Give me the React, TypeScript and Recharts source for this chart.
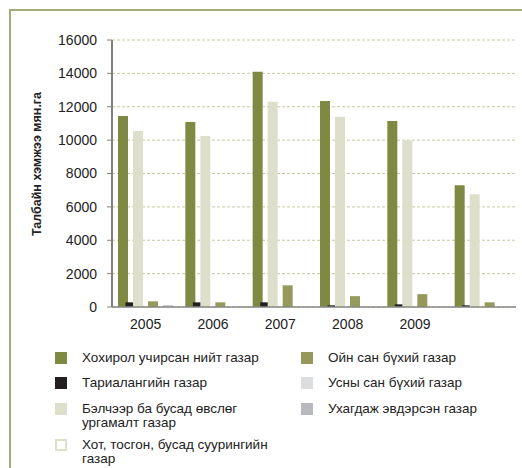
import { BarChart, Bar, XAxis, YAxis, CartesianGrid } from 'recharts'

const years = ['2005', '2006', '2007', '2008', '2009', '']
const damagedTotal = [11450, 11090, 14100, 12350, 11150, 7300]
const cropland = [280, 280, 280, 100, 160, 100]
const pasture = [10550, 10250, 12300, 11400, 10000, 6760]
const settlement = [null, null, null, null, null, null]
const forest = [340, 280, 1300, 650, 770, 280]
const water = [null, null, null, null, null, null]
const degraded = [100, null, null, null, null, null]
const yTicks = [0, 2000, 4000, 6000, 8000, 10000, 12000, 14000, 16000]

const series = [
  { key: 'damagedTotal', name: 'Хохирол учирсан нийт газар', color: '#7f8941' },
  { key: 'cropland', name: 'Тариалангийн газар', color: '#231f20' },
  { key: 'pasture', name: 'Бэлчээр ба бусад өвслөг ургамалт газар', color: '#dedfca' },
  { key: 'settlement', name: 'Хот, тосгон, бусад суурингийн газар', color: '#ffffff' },
  { key: 'forest', name: 'Ойн сан бүхий газар', color: '#959a5a' },
  { key: 'water', name: 'Усны сан бүхий газар', color: '#dcddde' },
  { key: 'degraded', name: 'Ухагдаж эвдэрсэн газар', color: '#b8b9bd' },
]

const data = years.map((year, i) => ({
  year,
  damagedTotal: damagedTotal[i],
  cropland: cropland[i],
  pasture: pasture[i],
  settlement: settlement[i],
  forest: forest[i],
  water: water[i],
  degraded: degraded[i],
}))

const font = '"Liberation Sans", Arial, sans-serif'

const legendLeft = [
  { label: ['Хохирол учирсан нийт газар'], color: '#7f8941', top: 351 },
  { label: ['Тариалангийн газар'], color: '#231f20', top: 376 },
  { label: ['Бэлчээр ба бусад өвслөг', 'ургамалт газар'], color: '#dedfca', top: 402 },
  { label: ['Хот, тосгон, бусад суурингийн', 'газар'], color: '#ffffff', border: '#dedfca', top: 438 },
]
const legendRight = [
  { label: ['Ойн сан бүхий газар'], color: '#959a5a', top: 351 },
  { label: ['Усны сан бүхий газар'], color: '#dcddde', top: 376 },
  { label: ['Ухагдаж эвдэрсэн газар'], color: '#b8b9bd', top: 402 },
]

function LegendItem({ item, x }: { item: any; x: number }) {
  return (
    <div style={{ position: 'absolute', left: x, top: item.top }}>
      <div
        style={{
          position: 'absolute',
          left: 0,
          top: 1,
          width: item.border ? 8 : 12,
          height: item.border ? 8 : 12,
          background: item.color,
          border: item.border ? `2px solid ${item.border}` : 'none',
        }}
      />
      <div style={{ position: 'absolute', left: 27, top: 0, whiteSpace: 'nowrap', fontSize: 13.5, lineHeight: '14px', color: '#222' }}>
        {item.label.map((l: string, i: number) => (
          <div key={i}>{l}</div>
        ))}
      </div>
    </div>
  )
}

function YearTick({ x, y, payload }: any) {
  return (
    <text x={x} y={y + 20} textAnchor="middle" fill="#222" fontSize={14} fontFamily={font}>
      {payload.value}
    </text>
  )
}

export default function App() {
  return (
    <div style={{ position: 'fixed', left: 0, top: 0, width: 522, height: 468, background: '#fff', fontFamily: font, overflow: 'hidden' }}>
      <div style={{ position: 'absolute', left: 9, top: 9, width: 513, height: 459, borderLeft: '2px solid #a3ab78', borderTop: '2px solid #a3ab78' }} />
      <div
        style={{
          position: 'absolute',
          left: 37,
          top: 164,
          transform: 'translate(-50%, -50%) rotate(-90deg)',
          whiteSpace: 'nowrap',
          fontSize: 12.5,
          fontWeight: 'bold',
          color: '#222',
        }}
      >
        Талбайн хэмжээ мян.га
      </div>
      <BarChart
        width={522}
        height={350}
        data={data}
        margin={{ top: 40, right: 6, bottom: 13, left: 0 }}
        barSize={10}
        barGap={-2.5}
        style={{ position: 'absolute', left: 0, top: 0 }}
      >
        <CartesianGrid vertical={false} stroke="#c5c8a0" strokeDasharray="3 2" />
        <XAxis
          dataKey="year"
          height={30}
          tickLine={false}
          tickSize={0}
          axisLine={{ stroke: '#888', strokeWidth: 1.5 }}
          tick={<YearTick />}
        />
        <YAxis
          width={112}
          domain={[0, 16000]}
          ticks={yTicks}
          interval={0}
          tickSize={5}
          tickMargin={10}
          axisLine={{ stroke: '#808080', strokeWidth: 2 }}
          tickLine={{ stroke: '#808080' }}
          tick={{ fill: '#222', fontSize: 14, fontFamily: font }}
        />
        {series.map((s) => (
          <Bar key={s.key} dataKey={s.key} name={s.name} fill={s.color} isAnimationActive={false} />
        ))}
      </BarChart>
      {legendLeft.map((item, i) => (
        <LegendItem key={i} item={item} x={55} />
      ))}
      {legendRight.map((item, i) => (
        <LegendItem key={i} item={item} x={301} />
      ))}
    </div>
  )
}
